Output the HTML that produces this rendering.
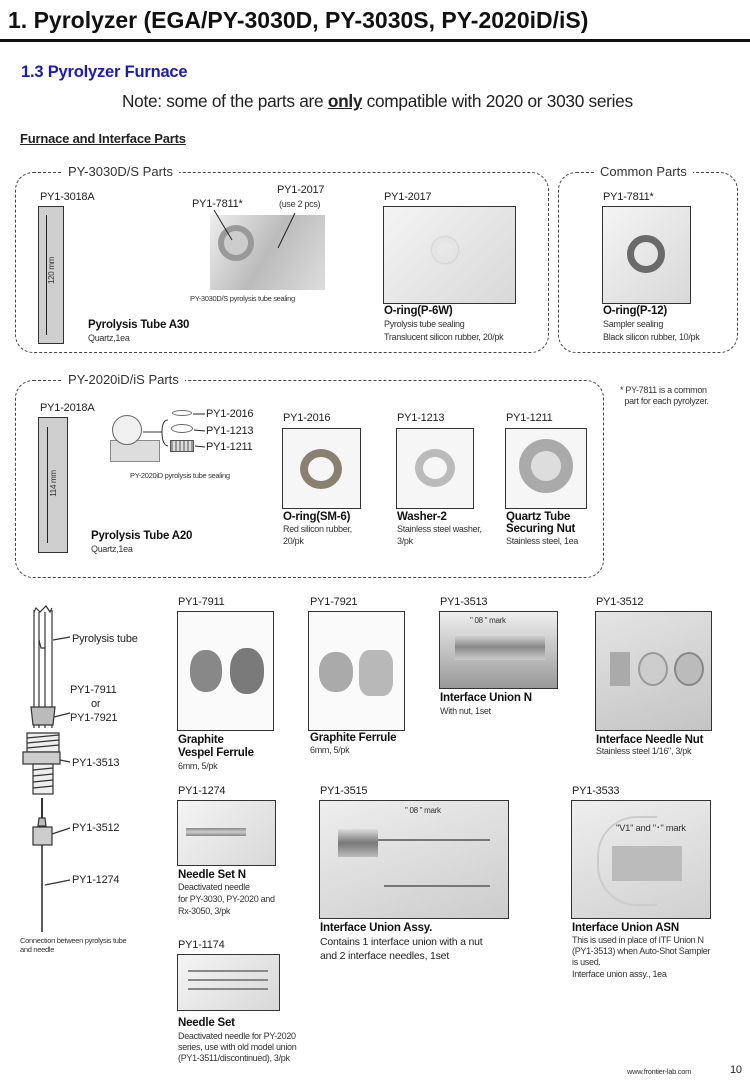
<!DOCTYPE html>
<html><head><meta charset="utf-8"><style>
*{margin:0;padding:0;box-sizing:border-box}
body{width:750px;height:1083px;background:#fff;position:relative;overflow:hidden;font-family:"Liberation Sans",Arial,sans-serif;color:#222}
.t{position:absolute;white-space:nowrap;font-size:11px;line-height:12px;letter-spacing:-0.2px}
.s{font-size:9px;line-height:11px;letter-spacing:-0.3px;color:#333}
.b{font-weight:bold;font-size:11.5px;color:#111}
.ph{position:absolute;border:1.5px solid #333;background:linear-gradient(135deg,#f4f4f4,#d8d8d8)}
.dash{position:absolute;border:1.3px dashed #444;border-radius:18px}
.lab{position:absolute;background:#fff;padding:0 6px;font-size:13px;line-height:14px;white-space:nowrap;color:#333}
</style></head><body>

<div class="t" style="left:8px;top:7px;font-size:23px;line-height:26px;font-weight:bold;letter-spacing:0;color:#111">1. Pyrolyzer (EGA/PY-3030D, PY-3030S, PY-2020iD/iS)</div>
<div style="position:absolute;left:0;top:39px;width:750px;height:3px;background:#111"></div>
<div class="t" style="left:21px;top:63px;font-size:16.5px;line-height:18px;font-weight:bold;color:#1a1ac0">1.3 Pyrolyzer Furnace</div>
<div class="t" style="left:122px;top:92px;font-size:17.3px;line-height:19px;letter-spacing:-0.3px">Note: some of the parts are <b><u>only</u></b> compatible with 2020 or 3030 series</div>
<div class="t" style="left:20px;top:131px;font-size:13px;line-height:15px;font-weight:bold;text-decoration:underline">Furnace and Interface Parts</div>

<div class="dash" style="left:15px;top:172px;width:534px;height:181px"></div>
<div class="lab" style="left:62px;top:165px">PY-3030D/S Parts</div>
<div class="dash" style="left:558px;top:172px;width:180px;height:181px"></div>
<div class="lab" style="left:594px;top:165px">Common Parts</div>
<div class="dash" style="left:15px;top:380px;width:589px;height:198px"></div>
<div class="lab" style="left:62px;top:373px">PY-2020iD/iS Parts</div>
<div class="t s" style="left:620px;top:385px">* PY-7811 is a common<br>&nbsp;&nbsp;part for each pyrolyzer.</div>

<div class="t" style="left:40px;top:191px">PY1-3018A</div>
<div class="ph" style="left:38px;top:206px;width:26px;height:138px;background:#cfcfcf"></div>
<div style="position:absolute;left:46px;top:215px;width:1px;height:120px;background:#222"></div>
<div class="t s" style="left:38px;top:265px;transform:rotate(-90deg);font-size:8px">120 mm</div>
<div class="t b" style="left:88px;top:319px">Pyrolysis Tube A30</div>
<div class="t s" style="left:88px;top:333px">Quartz,1ea</div>

<div class="t" style="left:192px;top:198px">PY1-7811*</div>
<div class="t" style="left:277px;top:184px">PY1-2017</div>
<div class="t s" style="left:279px;top:199px">(use 2 pcs)</div>
<div style="position:absolute;left:210px;top:215px;width:115px;height:75px;background:linear-gradient(120deg,#eee,#bbb 50%,#ddd)"></div>
<div style="position:absolute;left:218px;top:225px;width:36px;height:36px;border-radius:50%;border:6px solid #999;background:#ccc"></div>
<svg style="position:absolute;left:0;top:0" width="750" height="1083"><line x1="214" y1="210" x2="232" y2="240" stroke="#222"/><line x1="295" y1="213" x2="278" y2="248" stroke="#222"/></svg>
<div class="t s" style="left:190px;top:293px;font-size:7.5px">PY-3030D/S pyrolysis tube sealing</div>

<div class="t" style="left:384px;top:191px">PY1-2017</div>
<div class="ph" style="left:383px;top:206px;width:133px;height:98px"><div style="position:absolute;left:48px;top:30px;width:26px;height:26px;border-radius:50%;border:5px solid #e4e4e4;box-shadow:0 0 2px #aaa"></div></div>
<div class="t b" style="left:384px;top:305px">O-ring(P-6W)</div>
<div class="t s" style="left:384px;top:319px">Pyrolysis tube sealing</div>
<div class="t s" style="left:384px;top:332px">Translucent silicon rubber, 20/pk</div>

<div class="t" style="left:603px;top:191px">PY1-7811*</div>
<div class="ph" style="left:602px;top:206px;width:89px;height:98px"><div style="position:absolute;left:24px;top:28px;width:38px;height:38px;border-radius:50%;border:7px solid #6a6a6a"></div></div>
<div class="t b" style="left:603px;top:305px">O-ring(P-12)</div>
<div class="t s" style="left:603px;top:319px">Sampler sealing</div>
<div class="t s" style="left:603px;top:332px">Black silicon rubber, 10/pk</div>

<div class="t" style="left:40px;top:402px">PY1-2018A</div>
<div class="ph" style="left:38px;top:417px;width:30px;height:136px;background:#cfcfcf"></div>
<div style="position:absolute;left:47px;top:427px;width:1px;height:116px;background:#222"></div>
<div class="t s" style="left:40px;top:478px;transform:rotate(-90deg);font-size:8px">114 mm</div>
<div class="t b" style="left:91px;top:530px">Pyrolysis Tube A20</div>
<div class="t s" style="left:91px;top:544px">Quartz,1ea</div>

<div style="position:absolute;left:110px;top:440px;width:50px;height:22px;background:#ddd;border:1px solid #888"></div>
<div style="position:absolute;left:112px;top:415px;width:30px;height:30px;border-radius:50%;border:1px solid #666;background:#f0f0f0"></div>
<div style="position:absolute;left:172px;top:410px;width:20px;height:6px;border-radius:50%;border:1.5px solid #666"></div>
<div style="position:absolute;left:171px;top:424px;width:22px;height:9px;border-radius:50%;border:1.5px solid #666"></div>
<div style="position:absolute;left:170px;top:440px;width:24px;height:12px;border:1.5px solid #555;background:repeating-linear-gradient(90deg,#999 0 2px,#ddd 2px 4px)"></div>
<svg style="position:absolute;left:0;top:0" width="750" height="1083"><line x1="193" y1="414" x2="205" y2="414" stroke="#222"/><line x1="194" y1="430" x2="205" y2="431" stroke="#222"/><line x1="195" y1="446" x2="205" y2="447" stroke="#222"/><path d="M168 420 Q162 420 162 432 Q162 445 168 446 M162 432 L143 432" stroke="#333" fill="none"/></svg>
<div class="t" style="left:206px;top:408px">PY1-2016</div>
<div class="t" style="left:206px;top:425px">PY1-1213</div>
<div class="t" style="left:206px;top:441px">PY1-1211</div>
<div class="t s" style="left:130px;top:470px;font-size:7.5px">PY-2020iD pyrolysis tube sealing</div>

<div class="t" style="left:283px;top:412px">PY1-2016</div>
<div class="ph" style="left:282px;top:428px;width:79px;height:81px;background:#f6f6f6"><div style="position:absolute;left:17px;top:20px;width:42px;height:40px;border-radius:50%;border:8px solid #8a8070"></div></div>
<div class="t b" style="left:283px;top:511px">O-ring(SM-6)</div>
<div class="t s" style="left:283px;top:524px">Red silicon rubber,</div>
<div class="t s" style="left:283px;top:536px">20/pk</div>

<div class="t" style="left:397px;top:412px">PY1-1213</div>
<div class="ph" style="left:396px;top:428px;width:78px;height:81px;background:#f6f6f6"><div style="position:absolute;left:18px;top:20px;width:40px;height:38px;border-radius:50%;border:8px solid #bbb"></div></div>
<div class="t b" style="left:397px;top:511px">Washer-2</div>
<div class="t s" style="left:397px;top:524px">Stainless steel washer,</div>
<div class="t s" style="left:397px;top:536px">3/pk</div>

<div class="t" style="left:506px;top:412px">PY1-1211</div>
<div class="ph" style="left:505px;top:428px;width:82px;height:81px;background:#f6f6f6"><div style="position:absolute;left:13px;top:10px;width:54px;height:54px;border-radius:50%;border:12px solid #aaa;background:#ddd"></div></div>
<div class="t b" style="left:506px;top:511px">Quartz Tube</div>
<div class="t b" style="left:506px;top:523px">Securing Nut</div>
<div class="t s" style="left:506px;top:536px">Stainless steel, 1ea</div>

<svg style="position:absolute;left:0;top:0" width="750" height="1083" fill="none" stroke="#333" stroke-width="1.2">
<path d="M34 612 L36 608 L40 612 L46 606 L50 612 L52 608"/>
<line x1="34" y1="610" x2="34" y2="728"/><line x1="52" y1="610" x2="52" y2="728"/>
<line x1="39" y1="612" x2="39" y2="728"/><line x1="45" y1="612" x2="45" y2="728"/>
<path d="M39 640 L41 648 L45 648" />
<path d="M31 707 L55 707 L53 725 L33 725 Z" fill="#bbb"/>
<path d="M27 733 L59 733 L59 752 L27 752 Z" fill="#eee"/>
<path d="M27 738 L59 735 M27 743 L59 740 M27 748 L59 745"/>
<rect x="23" y="752" width="37" height="12" fill="#ccc"/>
<rect x="33" y="764" width="20" height="30" fill="#eee"/>
<path d="M33 770 L53 768 M33 776 L53 774 M33 782 L53 780 M33 788 L53 786"/>
<line x1="42" y1="798" x2="42" y2="818" stroke-width="2"/>
<path d="M39 818 L45 818 L46 826 L38 826 Z" fill="#bbb"/>
<rect x="33" y="827" width="19" height="18" fill="#ccc"/>
<line x1="42" y1="845" x2="42" y2="932" stroke-width="1.6"/>
<line x1="53" y1="640" x2="70" y2="637"/><line x1="54" y1="717" x2="70" y2="713"/>
<line x1="60" y1="760" x2="70" y2="762"/><line x1="52" y1="834" x2="70" y2="828"/><line x1="45" y1="885" x2="70" y2="880"/>
</svg>
<div class="t" style="left:72px;top:633px">Pyrolysis tube</div>
<div class="t" style="left:70px;top:684px">PY1-7911</div>
<div class="t" style="left:91px;top:698px">or</div>
<div class="t" style="left:70px;top:712px">PY1-7921</div>
<div class="t" style="left:72px;top:757px">PY1-3513</div>
<div class="t" style="left:72px;top:822px">PY1-3512</div>
<div class="t" style="left:72px;top:874px">PY1-1274</div>
<div class="t s" style="left:20px;top:936px;font-size:7.5px;line-height:9px">Connection between pyrolysis tube<br>and needle</div>

<div class="t" style="left:178px;top:596px">PY1-7911</div>
<div class="ph" style="left:177px;top:611px;width:97px;height:120px;background:#fafafa"><div style="position:absolute;left:12px;top:38px;width:32px;height:42px;border-radius:45%;background:#888"></div><div style="position:absolute;left:52px;top:36px;width:34px;height:46px;border-radius:45%;background:#7a7a7a"></div></div>
<div class="t b" style="left:178px;top:734px">Graphite</div>
<div class="t b" style="left:178px;top:747px">Vespel Ferrule</div>
<div class="t s" style="left:178px;top:761px">6mm, 5/pk</div>

<div class="t" style="left:310px;top:596px">PY1-7921</div>
<div class="ph" style="left:308px;top:611px;width:97px;height:120px;background:#fafafa"><div style="position:absolute;left:10px;top:40px;width:34px;height:40px;border-radius:45%;background:#aaa"></div><div style="position:absolute;left:50px;top:38px;width:34px;height:46px;border-radius:30%;background:#b8b8b8"></div></div>
<div class="t b" style="left:310px;top:732px">Graphite Ferrule</div>
<div class="t s" style="left:310px;top:745px">6mm, 5/pk</div>

<div class="t" style="left:440px;top:596px">PY1-3513</div>
<div class="ph" style="left:439px;top:611px;width:119px;height:78px;background:linear-gradient(180deg,#eee,#999)"><div style="position:absolute;left:15px;top:22px;width:90px;height:26px;background:linear-gradient(180deg,#ddd,#888,#ccc)"></div><div class="t s" style="left:30px;top:3px;font-size:8px">" 08 " mark</div></div>
<div class="t b" style="left:440px;top:692px">Interface Union N</div>
<div class="t s" style="left:440px;top:706px">With nut, 1set</div>

<div class="t" style="left:596px;top:596px">PY1-3512</div>
<div class="ph" style="left:595px;top:611px;width:117px;height:120px;background:linear-gradient(160deg,#e4e4e4,#c4c4c4)"><div style="position:absolute;left:14px;top:40px;width:20px;height:34px;background:#aaa"></div><div style="position:absolute;left:42px;top:40px;width:30px;height:34px;border-radius:50%;background:#ccc;border:2px solid #999"></div><div style="position:absolute;left:78px;top:40px;width:30px;height:34px;border-radius:50%;background:#bbb;border:2px solid #888"></div></div>
<div class="t b" style="left:596px;top:734px">Interface Needle Nut</div>
<div class="t s" style="left:596px;top:746px">Stainless steel 1/16", 3/pk</div>

<div class="t" style="left:178px;top:785px">PY1-1274</div>
<div class="ph" style="left:177px;top:800px;width:99px;height:66px"><div style="position:absolute;left:8px;top:27px;width:60px;height:8px;background:linear-gradient(180deg,#888,#ccc,#888)"></div></div>
<div class="t b" style="left:178px;top:869px">Needle Set N</div>
<div class="t s" style="left:178px;top:882px">Deactivated needle</div>
<div class="t s" style="left:178px;top:894px">for PY-3030, PY-2020 and</div>
<div class="t s" style="left:178px;top:906px">Rx-3050, 3/pk</div>

<div class="t" style="left:320px;top:785px">PY1-3515</div>
<div class="ph" style="left:319px;top:800px;width:190px;height:119px;background:linear-gradient(160deg,#eee,#ccc)"><div style="position:absolute;left:18px;top:28px;width:40px;height:28px;background:linear-gradient(180deg,#ddd,#777,#bbb)"></div><div style="position:absolute;left:58px;top:38px;width:112px;height:2px;background:#777"></div><div style="position:absolute;left:64px;top:84px;width:106px;height:2px;background:#777"></div><div class="t s" style="left:85px;top:4px;font-size:8px">" 08 " mark</div></div>
<div class="t b" style="left:320px;top:922px">Interface Union Assy.</div>
<div class="t" style="left:320px;top:936px;font-size:10.5px">Contains 1 interface union with a nut</div>
<div class="t" style="left:320px;top:950px;font-size:10.5px">and 2 interface needles, 1set</div>

<div class="t" style="left:572px;top:785px">PY1-3533</div>
<div class="ph" style="left:571px;top:800px;width:140px;height:119px;background:linear-gradient(160deg,#eee,#d0d0d0)"><div style="position:absolute;left:25px;top:15px;width:60px;height:90px;border:2px solid #ccc;border-right:none;border-radius:40px 0 0 40px"></div><div style="position:absolute;left:40px;top:45px;width:70px;height:35px;background:#bbb"></div><div class="t s" style="left:44px;top:22px;font-size:9.5px">"V1" and "･" mark</div></div>
<div class="t b" style="left:572px;top:922px">Interface Union ASN</div>
<div class="t s" style="left:572px;top:935px">This is used in place of ITF Union N</div>
<div class="t s" style="left:572px;top:946px">(PY1-3513) when Auto-Shot Sampler</div>
<div class="t s" style="left:572px;top:957px">is used.</div>
<div class="t s" style="left:572px;top:969px">Interface union assy., 1ea</div>

<div class="t" style="left:178px;top:939px">PY1-1174</div>
<div class="ph" style="left:177px;top:954px;width:103px;height:57px"><div style="position:absolute;left:10px;top:15px;width:80px;height:1.5px;background:#888"></div><div style="position:absolute;left:10px;top:24px;width:80px;height:1.5px;background:#888"></div><div style="position:absolute;left:10px;top:33px;width:80px;height:1.5px;background:#888"></div></div>
<div class="t b" style="left:178px;top:1017px">Needle Set</div>
<div class="t s" style="left:178px;top:1031px">Deactivated needle for PY-2020</div>
<div class="t s" style="left:178px;top:1042px">series, use with old model union</div>
<div class="t s" style="left:178px;top:1053px">(PY1-3511/discontinued), 3/pk</div>

<div class="t s" style="left:627px;top:1066px;font-size:7.5px">www.frontier-lab.com</div>
<div class="t" style="left:730px;top:1064px">10</div>
</body></html>
